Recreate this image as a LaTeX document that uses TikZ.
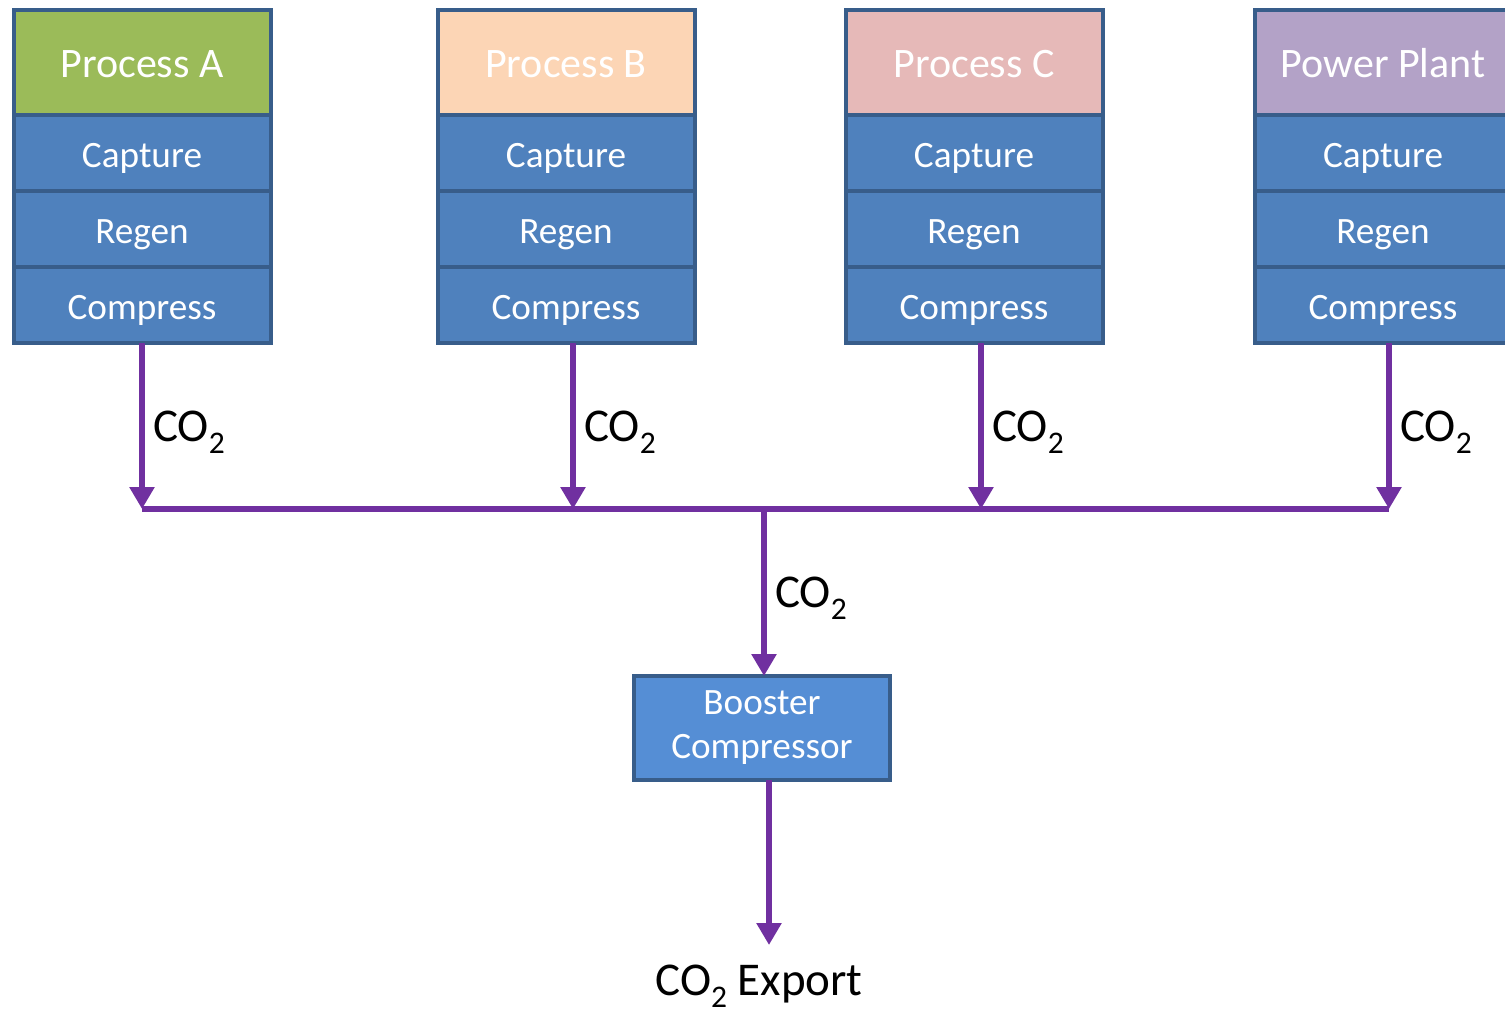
\documentclass[tikz,border=0pt]{standalone}
\usepackage{fontspec}
\setmainfont{Carlito}
\usetikzlibrary{positioning,arrows.meta}

\definecolor{edgeblue}{HTML}{385D8A}
\definecolor{rowblue}{HTML}{4F81BD}
\definecolor{boostblue}{HTML}{558ED5}
\definecolor{flowpurple}{HTML}{7030A0}
\definecolor{hdrgreen}{HTML}{9BBB59}
\definecolor{hdrpeach}{HTML}{FCD5B5}
\definecolor{hdrpink}{HTML}{E6B9B8}
\definecolor{hdrlilac}{HTML}{B3A2C7}

\newcommand{\cotwo}{CO\raisebox{-0.25em}{\scalebox{0.67}{2}}}

\begin{document}
\begin{tikzpicture}[x=0.5pt, y=-0.5pt,
    hdr/.style={draw=edgeblue, line width=2pt, text=white, outer sep=0pt,
      text height=18pt, text depth=3.5pt,
      minimum width=128.5pt, minimum height=52.5pt, font=\fontsize{21}{25}\selectfont},
    unit/.style={draw=edgeblue, fill=rowblue, line width=2pt, text=white, outer sep=0pt,
      text height=17pt, text depth=3pt,
      minimum width=128.5pt, minimum height=38pt, font=\fontsize{18.6}{22}\selectfont},
    flow/.style={draw=flowpurple, line width=3pt, -{Triangle[width=12pt,length=11pt]}},
    bus/.style={draw=flowpurple, line width=3pt},
    gas/.style={right, inner sep=4pt, yshift=-3pt, font=\fontsize{23.5}{28}\selectfont}]
  \useasboundingbox (0,0) rectangle (1505,1014);

  % process columns
  \node[hdr, fill=hdrgreen] (hdrA) at (142,62.5) {Process A};
  \node[unit, below=0pt of hdrA] (capA) {Capture};
  \node[unit, below=0pt of capA] (regA) {Regen};
  \node[unit, below=0pt of regA] (cmpA) {Compress};

  \node[hdr, fill=hdrpeach] (hdrB) at (566,62.5) {Process B};
  \node[unit, below=0pt of hdrB] (capB) {Capture};
  \node[unit, below=0pt of capB] (regB) {Regen};
  \node[unit, below=0pt of regB] (cmpB) {Compress};

  \node[hdr, fill=hdrpink] (hdrC) at (974,62.5) {Process C};
  \node[unit, below=0pt of hdrC] (capC) {Capture};
  \node[unit, below=0pt of capC] (regC) {Regen};
  \node[unit, below=0pt of regC] (cmpC) {Compress};

  \node[hdr, fill=hdrlilac] (hdrP) at (1383,62.5) {Power Plant};
  \node[unit, below=0pt of hdrP] (capP) {Capture};
  \node[unit, below=0pt of capP] (regP) {Regen};
  \node[unit, below=0pt of regP] (cmpP) {Compress};

  % header
  \coordinate (jA) at (142,509);
  \coordinate (jB) at (573,509);
  \coordinate (jC) at (981,509);
  \coordinate (jP) at (1389,509);
  \coordinate (jM) at (764,509);

  \draw[flow] (cmpA.south -| jA) -- node[gas] {\cotwo} (jA);
  \draw[flow] (cmpB.south -| jB) -- node[gas] {\cotwo} (jB);
  \draw[flow] (cmpC.south -| jC) -- node[gas] {\cotwo} (jC);
  \draw[flow] (cmpP.south -| jP) -- node[gas] {\cotwo} (jP);
  \draw[bus] (jA) -- (jP);

  % booster and export
  \node[draw=edgeblue, fill=boostblue, line width=2pt, text=white, outer sep=0pt,
    minimum width=128pt, minimum height=52pt, align=center,
    font=\fontsize{18.6}{22}\selectfont] (boost) at (762,728) {Booster\\Compressor};
  \draw[flow] (jM) -- node[gas] {\cotwo} (boost.north -| jM);

  \coordinate (out) at (769,945);
  \draw[flow] (boost.south -| out) -- (out);
  \node[font=\fontsize{23.5}{28}\selectfont] (export) at (759,986) {\cotwo{} Export};
\end{tikzpicture}
\end{document}
